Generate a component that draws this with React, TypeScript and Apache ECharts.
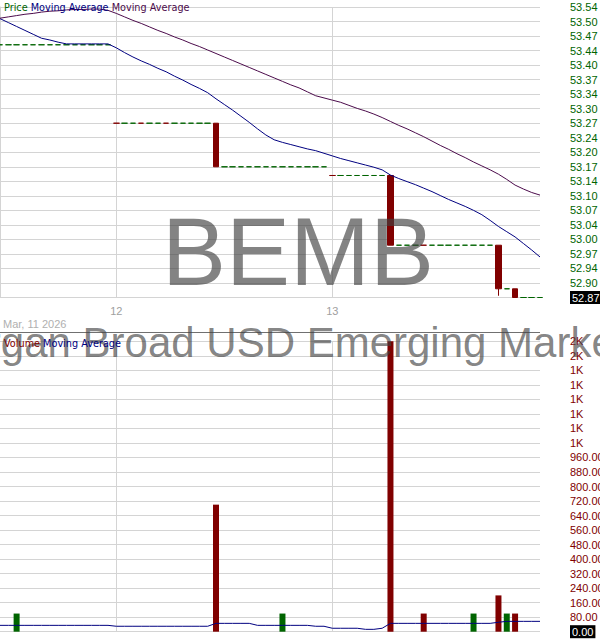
import * as echarts from 'echarts';
import { useEffect, useRef } from 'react';

// 15-minute bars, Mar 11 (from 12:30) to Mar 13
const sessions = [
  { date: 'Mar 11', firstSlot: 12 },
  { date: 'Mar 12', firstSlot: 0 },
  { date: 'Mar 13', firstSlot: 0 },
];
const slotsPerDay = 26;

const opens = [
  // Mar 11
  53.45, 53.45, 53.45, 53.45, 53.45, 53.45, 53.45, 53.45, 53.45, 53.45, 53.45, 53.45, 53.45, 53.45,
  // Mar 12
  53.27, 53.27, 53.27, 53.27, 53.27, 53.27, 53.27, 53.27, 53.27, 53.27, 53.27, 53.27, 53.27,
  53.17, 53.17, 53.17, 53.17, 53.17, 53.17, 53.17, 53.17, 53.17, 53.17, 53.17, 53.17, 53.17,
  // Mar 13
  53.15, 53.15, 53.15, 53.15, 53.15, 53.15, 53.15, 53.15,
  52.99, 52.99, 52.99, 52.99, 52.99, 52.99, 52.99, 52.99, 52.99, 52.99, 52.99, 52.99, 52.99,
  52.89, 52.89, 52.87, 52.87, 52.87,
];
const closes = [
  53.45, 53.45, 53.45, 53.45, 53.45, 53.45, 53.45, 53.45, 53.45, 53.45, 53.45, 53.45, 53.45, 53.45,
  53.27, 53.27, 53.27, 53.27, 53.27, 53.27, 53.27, 53.27, 53.27, 53.27, 53.27, 53.27, 53.17,
  53.17, 53.17, 53.17, 53.17, 53.17, 53.17, 53.17, 53.17, 53.17, 53.17, 53.17, 53.17, 53.17,
  53.15, 53.15, 53.15, 53.15, 53.15, 53.15, 53.15, 52.99,
  52.99, 52.99, 52.99, 52.99, 52.99, 52.99, 52.99, 52.99, 52.99, 52.99, 52.99, 52.99, 52.89,
  52.89, 52.87, 52.87, 52.87, 52.87,
];
const lows = [
  53.45, 53.45, 53.45, 53.45, 53.45, 53.45, 53.45, 53.45, 53.45, 53.45, 53.45, 53.45, 53.45, 53.45,
  53.27, 53.27, 53.27, 53.27, 53.27, 53.27, 53.27, 53.27, 53.27, 53.27, 53.27, 53.27, 53.17,
  53.17, 53.17, 53.17, 53.17, 53.17, 53.17, 53.17, 53.17, 53.17, 53.17, 53.17, 53.17, 53.17,
  53.15, 53.15, 53.15, 53.15, 53.15, 53.15, 53.15, 52.99,
  52.99, 52.99, 52.99, 52.99, 52.99, 52.99, 52.99, 52.99, 52.99, 52.99, 52.99, 52.99, 52.874,
  52.89, 52.87, 52.87, 52.87, 52.87,
];
const highs = [
  53.45, 53.45, 53.45, 53.45, 53.45, 53.45, 53.45, 53.45, 53.45, 53.45, 53.45, 53.45, 53.45, 53.45,
  53.27, 53.27, 53.27, 53.27, 53.27, 53.27, 53.27, 53.27, 53.27, 53.27, 53.27, 53.27, 53.27,
  53.17, 53.17, 53.17, 53.17, 53.17, 53.17, 53.17, 53.17, 53.17, 53.17, 53.17, 53.17, 53.17,
  53.15, 53.15, 53.15, 53.15, 53.15, 53.15, 53.15, 53.15,
  52.99, 52.99, 52.99, 52.99, 52.99, 52.99, 52.99, 52.99, 52.99, 52.99, 52.99, 52.99, 52.99,
  52.89, 52.89, 52.87, 52.87, 52.87,
];
// flat bars that print as down ticks
const downTicks = [14, 17, 20, 40, 51];

const maFast = [
  53.510, 53.501, 53.492, 53.483, 53.474, 53.465, 53.461, 53.456, 53.452, 53.452, 53.452, 53.452, 53.452, 53.452,
  53.443, 53.432, 53.422, 53.413, 53.405, 53.396, 53.388, 53.378, 53.369, 53.359, 53.350, 53.340, 53.326,
  53.313, 53.300, 53.286, 53.272, 53.257, 53.243, 53.232, 53.226, 53.221, 53.216, 53.211, 53.207, 53.201,
  53.195, 53.189, 53.184, 53.179, 53.174, 53.169, 53.163, 53.151,
  53.143, 53.136, 53.129, 53.121, 53.113, 53.104, 53.095, 53.087, 53.079, 53.070, 53.060, 53.047, 53.033,
  53.021, 53.009, 52.994, 52.979, 52.963,
];
const maSlow = [
  53.511, 53.514, 53.517, 53.520, 53.522, 53.525, 53.527, 53.528, 53.530, 53.531, 53.531, 53.532, 53.532, 53.529,
  53.522, 53.514, 53.506, 53.499, 53.491, 53.483, 53.476, 53.468, 53.461, 53.453, 53.446, 53.438, 53.430,
  53.422, 53.414, 53.406, 53.398, 53.390, 53.382, 53.374, 53.366, 53.358, 53.351, 53.342, 53.333, 53.328,
  53.323, 53.318, 53.311, 53.304, 53.298, 53.291, 53.283, 53.274,
  53.265, 53.257, 53.248, 53.239, 53.229, 53.219, 53.210, 53.200, 53.191, 53.181, 53.172, 53.163, 53.153,
  53.141, 53.128, 53.119, 53.111, 53.105,
];

const volumes = [
  0, 0, 100, 0, 0, 0, 0, 0, 0, 0, 0, 0, 0, 0,
  0, 0, 0, 0, 0, 0, 0, 0, 0, 0, 0, 0, 700, 0, 0, 0, 0, 0, 0, 0, 100, 0, 0, 0, 0, 0,
  0, 0, 0, 0, 0, 0, 0, 1600, 0, 0, 0, 100, 0, 0, 0, 0, 0, 100, 0, 0, 200, 100, 100, 0, 0, 0,
];
const volumeMa = [
  35, 35, 35, 35, 35, 35, 35, 35, 35, 35, 35, 35, 35, 35,
  30, 30, 30, 30, 30, 30, 30, 30, 30, 30, 30, 30, 46, 46, 46, 46, 46, 35, 35, 35, 35, 35, 35, 35, 30, 30,
  19, 19, 19, 19, 13, 13, 19, 46, 46, 46, 46, 46, 46, 46, 46, 46, 46, 46, 46, 46, 52, 57, 57, 57, 57, 57,
];

const priceTicks = [
  '52.87', '52.90', '52.94', '52.97', '53.00', '53.04', '53.07', '53.10', '53.14', '53.17', '53.20',
  '53.24', '53.27', '53.30', '53.34', '53.37', '53.40', '53.44', '53.47', '53.50', '53.54',
];
const volumeTicks = [
  '0.00', '80.00', '160.00', '240.00', '320.00', '400.00', '480.00', '560.00', '640.00', '720.00', '800.00',
  '880.00', '960.00', '1K', '1K', '1K', '1K', '1K', '1K', '2K', '2K',
];

const GREEN = '#006400';
const RED = '#800000';
const NAVY = '#000080';
const PURPLE = '#4b0b4b';
const GRID = '#d4d4d4';
const AXIS_FONT = '"Liberation Sans", Arial, sans-serif';
const LEGEND_FONT = '"DejaVu Sans", Verdana, sans-serif';

function buildCategories() {
  const out: string[] = [];
  sessions.forEach((s) => {
    for (let i = s.firstSlot; i < slotsPerDay; i++) {
      const mins = 9 * 60 + 30 + i * 15;
      const hh = String(Math.floor(mins / 60)).padStart(2, '0');
      const mm = String(mins % 60).padStart(2, '0');
      out.push(`${s.date} ${hh}:${mm}`);
    }
  });
  return out;
}

function PriceVolumeChart() {
  const chartRef = useRef(null);

  useEffect(() => {
    const myChart = echarts.init(chartRef.current, null, { renderer: 'svg' });

    const categories = buildCategories();
    const isDayStart = (i: number) => categories[i].endsWith('09:30');

    const isDown = (i: number) =>
      opens[i] > closes[i] || (opens[i] === closes[i] && downTicks.includes(i));

    const candles = categories.map((_, i) => {
      const c = isDown(i) ? RED : GREEN;
      return {
        value: [opens[i], closes[i], lows[i], highs[i]],
        itemStyle: { color: c, color0: c, borderColor: c, borderColor0: c, borderColorDoji: c },
      };
    });

    const volumeBars = volumes.map((v, i) => ({
      value: v,
      itemStyle: { color: isDown(i) ? RED : GREEN },
    }));

    const dayLines = {
      show: true,
      interval: (i: number) => isDayStart(i),
      lineStyle: { color: GRID, width: 1 },
    };

    const tickRich = {
      cur: {
        backgroundColor: '#000',
        color: '#fff',
        fontSize: 11,
        fontFamily: AXIS_FONT,
        padding: [1, 2, 1, 2],
      },
    };

    const option = {
      animation: false,
      grid: [
        { left: 0, right: 60, top: 7, height: 290.5, outerBoundsMode: 'none' },
        { left: 0, right: 60, top: 341.3, height: 290.4, outerBoundsMode: 'none' },
      ],
      xAxis: [
        {
          type: 'category',
          gridIndex: 0,
          data: categories,
          boundaryGap: false,
          axisLine: { show: false },
          axisTick: { show: false },
          axisLabel: {
            interval: 0,
            showMinLabel: false,
            showMaxLabel: false,
            formatter: (v: string, i: number) => (isDayStart(i) ? v.slice(4, 6) : ''),
            color: '#a0a0a0',
            fontSize: 11,
            fontFamily: AXIS_FONT,
            margin: 8,
          },
          splitLine: dayLines,
        },
        {
          type: 'category',
          gridIndex: 1,
          data: categories,
          boundaryGap: false,
          axisLine: { show: false },
          axisTick: { show: false },
          axisLabel: { show: false },
          splitLine: dayLines,
        },
      ],
      yAxis: [
        {
          type: 'value',
          gridIndex: 0,
          min: 52.87,
          max: 53.5367,
          position: 'left',
          axisLine: { show: true, lineStyle: { color: GRID } },
          axisTick: { show: false },
          axisLabel: { show: false },
          splitLine: { show: false },
        },
        {
          type: 'value',
          gridIndex: 0,
          min: 0,
          max: 20,
          interval: 1,
          position: 'right',
          axisLine: { show: false },
          axisTick: { show: false },
          axisLabel: {
            margin: 30,
            color: GREEN,
            fontSize: 11,
            fontFamily: AXIS_FONT,
            formatter: (v: number) => (v === 0 ? `{cur|${priceTicks[0]}}` : priceTicks[v]),
            rich: tickRich,
          },
          splitLine: { show: true, lineStyle: { color: GRID } },
        },
        {
          type: 'value',
          gridIndex: 1,
          min: 0,
          max: 1600,
          interval: 80,
          position: 'right',
          axisLine: { show: false },
          axisTick: { show: false },
          axisLabel: {
            margin: 30,
            color: RED,
            fontSize: 11,
            fontFamily: AXIS_FONT,
            formatter: (v: number) => {
              const i = Math.round(v / 80);
              return i === 0 ? `{cur|${volumeTicks[0]}}` : volumeTicks[i];
            },
            rich: tickRich,
          },
          splitLine: { show: true, lineStyle: { color: GRID } },
        },
      ],
      series: [
        {
          name: 'Price',
          type: 'candlestick',
          xAxisIndex: 0,
          yAxisIndex: 0,
          barWidth: 6,
          itemStyle: { color: GREEN, color0: RED, borderColor: GREEN, borderColor0: RED, borderWidth: 1 },
          data: candles,
        },
        {
          name: 'Moving Average',
          type: 'line',
          xAxisIndex: 0,
          yAxisIndex: 0,
          showSymbol: false,
          lineStyle: { color: NAVY, width: 1 },
          data: maFast,
          z: 3,
        },
        {
          name: 'Moving Average 2',
          type: 'line',
          xAxisIndex: 0,
          yAxisIndex: 0,
          showSymbol: false,
          lineStyle: { color: PURPLE, width: 1 },
          data: maSlow,
          z: 3,
        },
        {
          name: 'Volume',
          type: 'bar',
          xAxisIndex: 1,
          yAxisIndex: 2,
          barWidth: 6,
          data: volumeBars,
        },
        {
          name: 'Volume MA',
          type: 'line',
          xAxisIndex: 1,
          yAxisIndex: 2,
          showSymbol: false,
          lineStyle: { color: NAVY, width: 1 },
          data: volumeMa,
          z: 3,
        },
      ],
      graphic: [
        {
          type: 'line',
          z: 5,
          shape: { x1: 0, y1: 332.5, x2: 540, y2: 332.5 },
          style: { stroke: '#707070', lineWidth: 1 },
        },
        {
          type: 'text',
          z: 100,
          x: 298,
          y: 251,
          style: {
            text: 'BEMB',
            fontSize: 96,
            fontFamily: AXIS_FONT,
            fill: 'rgba(64,64,64,0.65)',
            align: 'center',
            verticalAlign: 'middle',
          },
        },
        {
          type: 'text',
          z: 100,
          x: 272,
          y: 342,
          style: {
            text: 'iShares J.P. Morgan Broad USD Emerging Markets Bond ETF',
            fontSize: 42,
            fontFamily: AXIS_FONT,
            fill: 'rgba(64,64,64,0.65)',
            align: 'center',
            verticalAlign: 'middle',
          },
        },
        {
          type: 'text',
          z: 101,
          x: 4,
          y: 7,
          style: {
            text: '{g|Price} {b|Moving Average} {p|Moving Average}',
            fontSize: 9.7,
            fontFamily: LEGEND_FONT,
            verticalAlign: 'middle',
            rich: {
              g: { fill: GREEN, fontSize: 9.7, fontFamily: LEGEND_FONT },
              b: { fill: NAVY, fontSize: 9.7, fontFamily: LEGEND_FONT },
              p: { fill: PURPLE, fontSize: 9.7, fontFamily: LEGEND_FONT },
            },
          },
        },
        {
          type: 'text',
          z: 101,
          x: 4,
          y: 343,
          style: {
            text: '{r|Volume} {b|Moving Average}',
            fontSize: 9.7,
            fontFamily: LEGEND_FONT,
            verticalAlign: 'middle',
            rich: {
              r: { fill: RED, fontSize: 9.7, fontFamily: LEGEND_FONT },
              b: { fill: NAVY, fontSize: 9.7, fontFamily: LEGEND_FONT },
            },
          },
        },
        {
          type: 'text',
          z: 101,
          x: 3,
          y: 324,
          style: {
            text: 'Mar, 11 2026',
            fontSize: 11,
            fontFamily: AXIS_FONT,
            fill: '#b0b0b0',
            verticalAlign: 'middle',
          },
        },
      ],
    };

    myChart.setOption(option);

    return () => {
      myChart.dispose();
    };
  }, []);

  return (
    <div
      ref={chartRef}
      style={{ position: 'fixed', left: 0, top: 0, width: '600px', height: '640px', background: '#fff' }}
    ></div>
  );
}

export default function App() {
  return <PriceVolumeChart />;
}
